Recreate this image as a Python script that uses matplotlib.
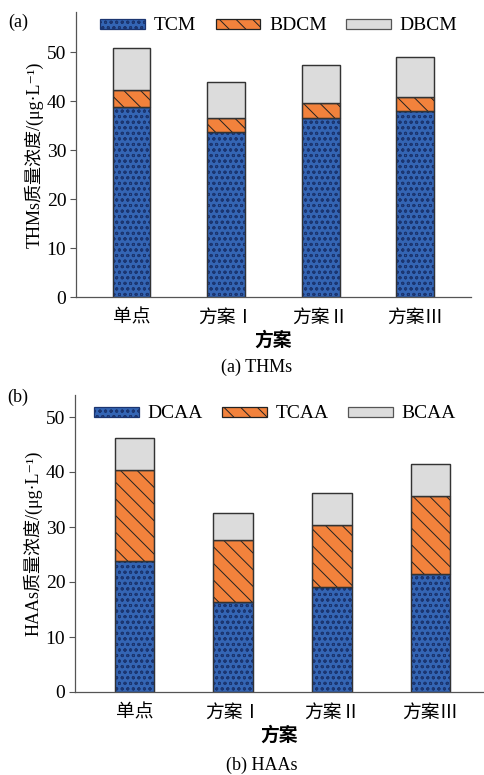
import matplotlib
matplotlib.use("Agg")
import matplotlib.pyplot as plt
import numpy as np

plt.rcParams["font.family"] = ["Liberation Serif", "Noto Sans CJK SC", "DejaVu Serif"]
plt.rcParams["hatch.linewidth"] = 0.7
plt.rcParams["font.size"] = 14

# x categories (same for both panels)
schemes = ["单点", "方案Ⅰ", "方案Ⅱ", "方案Ⅲ"]

# (a) THMs, stacked components, ug/L
tcm = [38.8, 33.7, 36.6, 37.9]
bdcm = [3.4, 2.8, 3.0, 3.0]
dbcm = [8.7, 7.5, 7.8, 8.1]

# (b) HAAs, stacked components, ug/L
dcaa = [23.8, 16.4, 19.1, 21.5]
tcaa = [16.5, 11.2, 11.3, 14.1]
bcaa = [5.95, 5.0, 5.8, 5.9]

blue = "#3465b4"
blue_hatch = "#1b3570"
orange = "#f2823c"
grey = "#dcdcdc"


def stack(ax, parts, labels):
    x = np.arange(len(schemes))
    w = 0.4
    bottom = np.zeros(len(schemes))
    styles = [
        dict(color=blue, edgecolor=blue_hatch, hatch="ooo"),
        dict(color=orange, edgecolor="#222222", hatch="\\\\"),
        dict(color=grey, edgecolor="#555555", hatch=None),
    ]
    handles = []
    for vals, lab, st in zip(parts, labels, styles):
        b = ax.bar(x, vals, w, bottom=bottom, label=lab, linewidth=0.9, **st)
        # outline on top of hatch-coloured edges
        ax.bar(x, vals, w, bottom=bottom, fill=False, edgecolor="#333333", linewidth=0.9)
        handles.append(b)
        bottom = bottom + np.array(vals)
    ax.set_xticks(x)
    ax.set_xticklabels(schemes, fontsize=13.5)
    ax.tick_params(axis="x", length=0, pad=9)
    ax.tick_params(axis="y", direction="out", length=4, color="#555555", pad=3,
                   labelsize=14)
    ax.set_yticks([0, 10, 20, 30, 40, 50])
    for s in ["top", "right"]:
        ax.spines[s].set_visible(False)
    for s in ["left", "bottom"]:
        ax.spines[s].set_color("#555555")
        ax.spines[s].set_linewidth(0.9)
    ax.set_xlabel("方案", labelpad=3, fontweight="bold", fontsize=13.5)
    return handles


fig = plt.figure(figsize=(4.85, 7.75), dpi=100)

ax1 = fig.add_axes([76 / 485, 1 - 297 / 775, 395 / 485, 285 / 775])
h1 = stack(ax1, [tcm, bdcm, dbcm], ["TCM", "BDCM", "DBCM"])
ax1.set_xlim(-0.587, 3.59)
ax1.set_ylim(0, 58.2)
ax1.set_ylabel("THMs质量浓度/(μg·L⁻¹)", labelpad=2, fontsize=13)
fig.legend(handles=h1, loc="center", bbox_to_anchor=(279 / 485, 1 - 26 / 775),
           ncol=3, frameon=False, handlelength=2.3, handleheight=0.42,
           handletextpad=0.45, columnspacing=1.0, fontsize=14)
fig.text(18 / 485, 1 - 22 / 775, "(a)", ha="center", va="center", fontsize=13)
fig.text(257 / 485, 1 - 367 / 775, "(a) THMs", ha="center", va="center", fontsize=13)

ax2 = fig.add_axes([75 / 485, 1 - 692 / 775, 409 / 485, 297 / 775])
h2 = stack(ax2, [dcaa, tcaa, bcaa], ["DCAA", "TCAA", "BCAA"])
ax2.set_xlim(-0.6, 3.54)
ax2.set_ylim(0, 54)
ax2.set_ylabel("HAAs质量浓度/(μg·L⁻¹)", labelpad=2, fontsize=13)
fig.legend(handles=h2, loc="center", bbox_to_anchor=(275 / 485, 1 - 414 / 775),
           ncol=3, frameon=False, handlelength=2.3, handleheight=0.42,
           handletextpad=0.45, columnspacing=1.0, fontsize=14)
fig.text(18 / 485, 1 - 397 / 775, "(b)", ha="center", va="center", fontsize=13)
fig.text(262 / 485, 1 - 765 / 775, "(b) HAAs", ha="center", va="center", fontsize=13)

fig.savefig("out.png", dpi=100)
